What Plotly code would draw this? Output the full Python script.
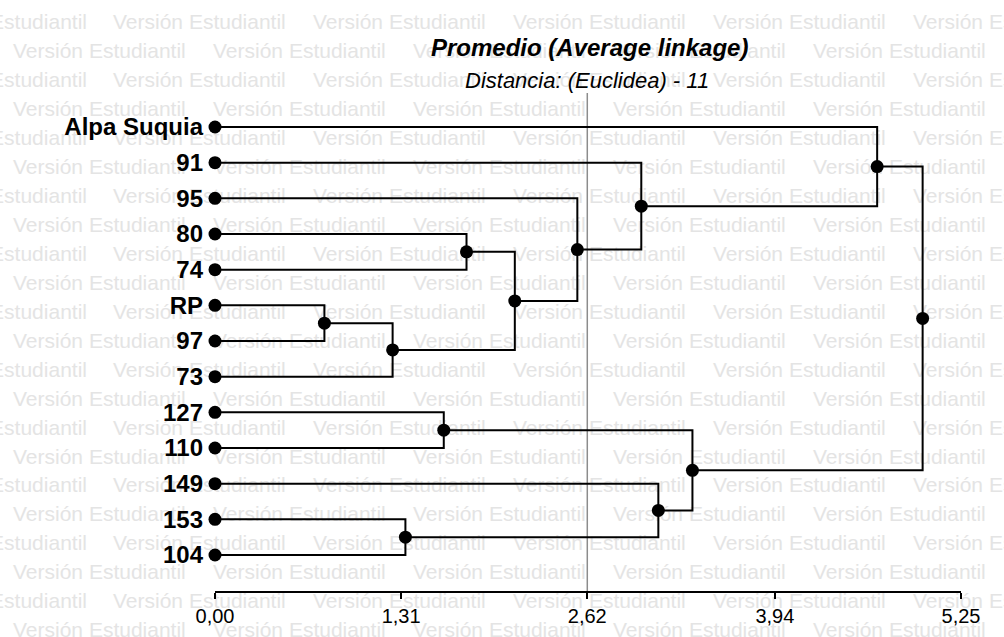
import plotly.graph_objects as go

# ---------------- data ----------------
leaf_labels = ["Alpa Suquia", "91", "95", "80", "74", "RP", "97", "73",
               "127", "110", "149", "153", "104"]
# merges: (child_a, child_b, height); leaves are 0..12, new clusters 13..
merge_a = [5, 13, 11, 8, 3, 17, 2, 1, 10, 16, 0, 23]
merge_b = [6, 7, 12, 9, 4, 14, 18, 19, 15, 21, 20, 22]
merge_h = [0.77, 1.25, 1.34, 1.61, 1.77, 2.11, 2.55, 3.00, 3.12, 3.36, 4.66, 4.98]
cut_distance = 2.62
tick_vals = [0.00, 1.31, 2.62, 3.94, 5.25]
tick_text = ["0,00", "1,31", "2,62", "3,94", "5,25"]
title_text = "Promedio (Average linkage)"
subtitle_text = "Distancia: (Euclidea) - 11"
watermark_text = "Versión Estudiantil"

# ---------------- layout constants (pixels) ----------------
W, H = 1004, 637
X0_PX, X1_PX = 215, 961              # pixel of x=0 and x=5.25
Y0_PX, STEP = 127, (555 - 127) / 12  # first leaf pixel, leaf spacing
AXIS_PX, TOP_PX = 591, 20
XMAX = 5.25
FONT = "Liberation Sans, Arial"
WM_WIDTH = 174                       # approx. rendered width of watermark text


def py_to_y(py):
    return (py - Y0_PX) / STEP


# ---------------- dendrogram geometry ----------------
n = len(leaf_labels)
pos_y = {i: float(i) for i in range(n)}
pos_x = {i: 0.0 for i in range(n)}
lx, ly = [], []
node_x, node_y = [], []
for k, (a, b, h) in enumerate(zip(merge_a, merge_b, merge_h)):
    nid = n + k
    ya, yb = pos_y[a], pos_y[b]
    lx += [pos_x[a], h, h, pos_x[b], None]
    ly += [ya, ya, yb, yb, None]
    pos_x[nid] = h
    pos_y[nid] = (ya + yb) / 2
    node_x.append(h)
    node_y.append(pos_y[nid])

fig = go.Figure()

# watermark on a full-page pixel axis (behind everything)
wm_r_x, wm_r_y, wm_l_x, wm_l_y = [], [], [], []
for r in range(22):
    py = 24 + r * 28.95
    start = -87 if r % 2 == 0 else 13
    for c in range(6):
        px = start + 200 * c
        if px < 0:
            wm_l_x.append(px + WM_WIDTH)   # anchor at right end
            wm_l_y.append(py)
        elif px < W:
            wm_r_x.append(px)
            wm_r_y.append(py)
wm_font = dict(family=FONT, size=21, color="#e4e4e4")
fig.add_trace(go.Scatter(
    x=wm_r_x, y=wm_r_y, mode="text", text=[watermark_text] * len(wm_r_x),
    textposition="middle right", cliponaxis=False, hoverinfo="skip",
    textfont=wm_font, showlegend=False, xaxis="x", yaxis="y"))
fig.add_trace(go.Scatter(
    x=wm_l_x, y=wm_l_y, mode="text", text=[watermark_text] * len(wm_l_x),
    textposition="middle left", cliponaxis=False, hoverinfo="skip",
    textfont=wm_font, showlegend=False, xaxis="x", yaxis="y"))

# cut line
fig.add_trace(go.Scatter(
    x=[cut_distance, cut_distance], y=[py_to_y(93), py_to_y(AXIS_PX)],
    mode="lines", line=dict(color="#8c8c8c", width=1.5),
    hoverinfo="skip", showlegend=False, cliponaxis=False,
    xaxis="x2", yaxis="y2"))

# dendrogram lines
fig.add_trace(go.Scatter(
    x=lx, y=ly, mode="lines", line=dict(color="black", width=2),
    hoverinfo="skip", showlegend=False, xaxis="x2", yaxis="y2"))

# dots
fig.add_trace(go.Scatter(
    x=[0.0] * n + node_x, y=list(range(n)) + node_y, mode="markers",
    marker=dict(color="black", size=13), cliponaxis=False,
    hoverinfo="skip", showlegend=False, xaxis="x2", yaxis="y2"))

# titles (pixel coordinates on the page axis)
fig.add_annotation(x=589, y=47, xref="x", yref="y",
                   text="<b><i>" + title_text + "</i></b>",
                   showarrow=False, xanchor="center", yanchor="middle",
                   font=dict(family=FONT, size=24, color="black"))
fig.add_annotation(x=587, y=80, xref="x", yref="y",
                   text="<i>" + subtitle_text + "</i>",
                   showarrow=False, xanchor="center", yanchor="middle",
                   font=dict(family=FONT, size=22, color="black"))

hidden = dict(visible=False, showgrid=False, zeroline=False, fixedrange=True,
              automargin=False)

fig.update_layout(
    width=W, height=H,
    margin=dict(l=0, r=0, t=0, b=0, pad=0, autoexpand=False),
    plot_bgcolor="rgba(0,0,0,0)", paper_bgcolor="white",
    showlegend=False,
    xaxis=dict(domain=[0, 1], range=[0, W], **hidden),
    yaxis=dict(domain=[0, 1], range=[H, 0], **hidden),
    xaxis2=dict(domain=[X0_PX / W, X1_PX / W], range=[0, XMAX], anchor="y2",
                automargin=False, fixedrange=True,
                tickvals=tick_vals, ticktext=tick_text,
                showgrid=False, zeroline=False, showline=True, linecolor="black",
                linewidth=1.5, ticks="outside", ticklen=6, tickwidth=1.5,
                tickcolor="black",
                tickfont=dict(family=FONT, size=20, color="black")),
    yaxis2=dict(domain=[(H - AXIS_PX) / H, (H - TOP_PX) / H], anchor="x2",
                automargin=False, fixedrange=True,
                range=[py_to_y(AXIS_PX), py_to_y(TOP_PX)],
                tickvals=list(range(n)), ticktext=leaf_labels,
                showgrid=False, zeroline=False, showline=False, ticks="",
                ticklabelstandoff=11,
                tickfont=dict(family=FONT, size=24, color="black", weight="bold")),
)

fig.write_html("out.html", config={"displayModeBar": False},
               post_script="document.body.style.margin='0';")
